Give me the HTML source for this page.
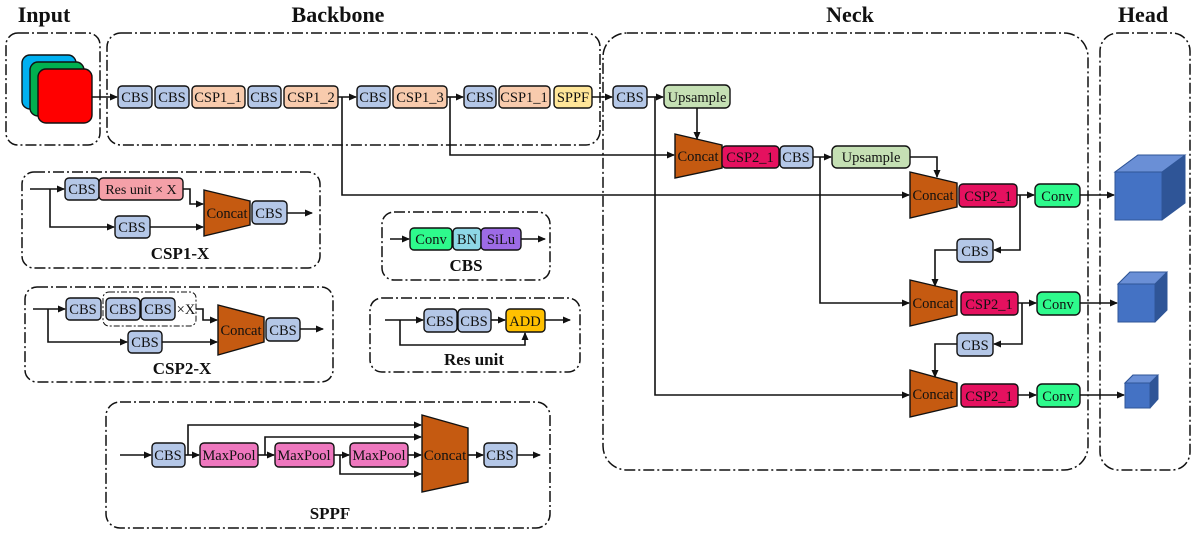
<!DOCTYPE html>
<html><head><meta charset="utf-8"><style>
html,body{margin:0;padding:0;background:#fff}
svg{display:block}
text{font-family:"Liberation Serif",serif;font-size:14.5px;fill:#111}
.t{font-weight:bold;font-size:22px}
.l{font-weight:bold;font-size:17px}
.f{fill:none;stroke:#111;stroke-width:1.5;stroke-dasharray:11 3 2 3}
.w{fill:none;stroke:#111;stroke-width:1.6}
.b{stroke:#111;stroke-width:1.4}
</style></head><body>
<svg width="1200" height="538" viewBox="0 0 1200 538" xmlns="http://www.w3.org/2000/svg">
<defs><marker id="a" markerWidth="8" markerHeight="8" refX="7" refY="4" orient="auto" markerUnits="userSpaceOnUse"><path d="M0,0.5 L8,4 L0,7.5z" fill="#111"/></marker></defs>
<g text-anchor="middle">
<text class="t" x="44" y="22">Input</text>
<text class="t" x="338" y="22">Backbone</text>
<text class="t" x="850" y="22">Neck</text>
<text class="t" x="1143" y="22">Head</text>
</g>
<rect class="f" x="6" y="33" width="94" height="112" rx="12"/>
<rect class="f" x="107" y="33" width="493" height="112" rx="14"/>
<rect class="f" x="603" y="33" width="485" height="437" rx="24"/>
<rect class="f" x="1100" y="33" width="90" height="437" rx="18"/>
<rect class="f" x="22" y="172" width="298" height="96" rx="12"/>
<rect class="f" x="25" y="287" width="308" height="95" rx="12"/>
<rect class="f" x="382" y="212" width="168" height="68" rx="12"/>
<rect class="f" x="370" y="298" width="210" height="74" rx="12"/>
<rect class="f" x="106" y="402" width="444" height="126" rx="14"/>
<rect x="22" y="55" width="54" height="54" rx="8" fill="#00B0F0" class="b"/>
<rect x="30" y="62" width="54" height="54" rx="8" fill="#00B050" class="b"/>
<rect x="38" y="69" width="54" height="54" rx="8" fill="#FF0000" class="b"/>
<g class="w">
<path d="M92 97H117" marker-end="url(#a)"/>
<path d="M338 97H356" marker-end="url(#a)"/>
<path d="M447 97H463" marker-end="url(#a)"/>
<path d="M592 97H612" marker-end="url(#a)"/>
<path d="M647 97H663" marker-end="url(#a)"/>
<path d="M342 97V195H909" marker-end="url(#a)"/>
<path d="M450 97V155H674" marker-end="url(#a)"/>
<path d="M655 97V395H909" marker-end="url(#a)"/>
<path d="M697 108V139" marker-end="url(#a)"/>
<path d="M813 157H831" marker-end="url(#a)"/>
<path d="M820 157V303H909" marker-end="url(#a)"/>
<path d="M910 157H937V177" marker-end="url(#a)"/>
<path d="M1017 195H1034" marker-end="url(#a)"/>
<path d="M1080 195H1114" marker-end="url(#a)"/>
<path d="M1020 195V250H994" marker-end="url(#a)"/>
<path d="M957 250H935V286" marker-end="url(#a)"/>
<path d="M1018 303H1036" marker-end="url(#a)"/>
<path d="M1080 303H1117" marker-end="url(#a)"/>
<path d="M1022 303V344H994" marker-end="url(#a)"/>
<path d="M957 344H935V377" marker-end="url(#a)"/>
<path d="M1018 395H1036" marker-end="url(#a)"/>
<path d="M1080 395H1124" marker-end="url(#a)"/>
<path d="M30 189H64" marker-end="url(#a)"/>
<path d="M50 189V227H114" marker-end="url(#a)"/>
<path d="M150 227H203" marker-end="url(#a)"/>
<path d="M183 189H190V204H203" marker-end="url(#a)"/>
<path d="M287 213H312" marker-end="url(#a)"/>
<path d="M33 309H65" marker-end="url(#a)"/>
<path d="M48 309V342H127" marker-end="url(#a)"/>
<path d="M162 342H217" marker-end="url(#a)"/>
<path d="M196 309H203V320H217" marker-end="url(#a)"/>
<path d="M300 329H323" marker-end="url(#a)"/>
<path d="M390 239H409" marker-end="url(#a)"/>
<path d="M521 239H545" marker-end="url(#a)"/>
<path d="M385 320H423" marker-end="url(#a)"/>
<path d="M491 320H505" marker-end="url(#a)"/>
<path d="M545 320H570" marker-end="url(#a)"/>
<path d="M400 320V345H525V333" marker-end="url(#a)"/>
<path d="M120 455H151" marker-end="url(#a)"/>
<path d="M185 455H199" marker-end="url(#a)"/>
<path d="M258 455H274" marker-end="url(#a)"/>
<path d="M334 455H349" marker-end="url(#a)"/>
<path d="M408 455H421" marker-end="url(#a)"/>
<path d="M468 455H483" marker-end="url(#a)"/>
<path d="M517 455H540" marker-end="url(#a)"/>
<path d="M188 455V425H421" marker-end="url(#a)"/>
<path d="M265 455V437H421" marker-end="url(#a)"/>
<path d="M340 455V474H421" marker-end="url(#a)"/>
</g>
<g fill="#C55A11" class="b">
<path d="M675 134L722 145V168L675 178Z"/>
<path d="M910 172L957 183V207L910 218Z"/>
<path d="M910 280L957 291V315L910 326Z"/>
<path d="M910 370L957 383V406L910 417Z"/>
<path d="M204 190L250 201V225L204 236Z"/>
<path d="M218 305L264 317V342L218 355Z"/>
<path d="M422 415L468 428V482L422 492Z"/>
</g>
<g text-anchor="middle" style="font-size:13.5px">
<text x="698" y="161">Concat</text><text x="933" y="200">Concat</text>
<text x="933" y="308">Concat</text><text x="933" y="399">Concat</text>
<text x="227" y="218">Concat</text><text x="241" y="335">Concat</text>
<text x="445" y="460" style="font-size:15px">Concat</text>
</g>
<g class="b">
<g fill="#B4C7E7">
<rect x="118" y="86" width="34" height="22" rx="4"/><rect x="155" y="86" width="34" height="22" rx="4"/>
<rect x="248" y="86" width="33" height="22" rx="4"/><rect x="357" y="86" width="33" height="22" rx="4"/>
<rect x="464" y="86" width="32" height="22" rx="4"/><rect x="613" y="86" width="34" height="22" rx="4"/>
<rect x="780" y="146" width="33" height="22" rx="4"/>
<rect x="957" y="239" width="36" height="23" rx="4"/><rect x="957" y="333" width="36" height="23" rx="4"/>
<rect x="65" y="178" width="34" height="22" rx="4"/><rect x="115" y="216" width="35" height="22" rx="4"/>
<rect x="252" y="201" width="35" height="23" rx="4"/>
<rect x="66" y="298" width="35" height="22" rx="4"/><rect x="106" y="298" width="34" height="22" rx="4"/>
<rect x="141" y="298" width="34" height="22" rx="4"/><rect x="128" y="331" width="34" height="22" rx="4"/>
<rect x="266" y="318" width="34" height="23" rx="4"/>
<rect x="424" y="309" width="33" height="23" rx="4"/><rect x="458" y="309" width="33" height="23" rx="4"/>
<rect x="152" y="443" width="33" height="24" rx="4"/><rect x="484" y="443" width="33" height="24" rx="4"/>
</g>
<g fill="#F8CBAD">
<rect x="192" y="86" width="53" height="22" rx="4"/><rect x="284" y="86" width="54" height="22" rx="4"/>
<rect x="393" y="86" width="54" height="22" rx="4"/><rect x="499" y="86" width="51" height="22" rx="4"/>
</g>
<rect x="554" y="86" width="38" height="22" rx="4" fill="#FFE699"/>
<rect x="664" y="85" width="66" height="23" rx="5" fill="#C5E0B4"/>
<rect x="832" y="146" width="78" height="22" rx="5" fill="#C5E0B4"/>
<g fill="#E5115F">
<rect x="722" y="146" width="57" height="22" rx="4"/><rect x="959" y="184" width="58" height="23" rx="4"/>
<rect x="961" y="292" width="57" height="23" rx="4"/><rect x="961" y="384" width="57" height="23" rx="4"/>
</g>
<g fill="#2EFA8C">
<rect x="1035" y="184" width="45" height="23" rx="5"/><rect x="1037" y="292" width="43" height="23" rx="5"/>
<rect x="1037" y="384" width="43" height="23" rx="5"/><rect x="410" y="228" width="42" height="22" rx="4"/>
</g>
<rect x="453" y="228" width="28" height="22" rx="4" fill="#8ED8E6"/>
<rect x="481" y="228" width="40" height="22" rx="4" fill="#9D6BE6"/>
<rect x="99" y="178" width="84" height="22" rx="4" fill="#F4A0A8"/>
<rect x="506" y="309" width="39" height="23" rx="4" fill="#FFC000"/>
<g fill="#EE77BE">
<rect x="200" y="443" width="58" height="24" rx="4"/><rect x="275" y="443" width="59" height="24" rx="4"/>
<rect x="350" y="443" width="58" height="24" rx="4"/>
</g>
</g>
<rect x="103" y="292" width="93" height="34" rx="6" fill="none" stroke="#111" stroke-width="1" stroke-dasharray="6 2 2 2"/>
<g text-anchor="middle">
<text x="135" y="102">CBS</text><text x="172" y="102">CBS</text><text x="218" y="102">CSP1_1</text>
<text x="264" y="102">CBS</text><text x="311" y="102">CSP1_2</text><text x="373" y="102">CBS</text>
<text x="420" y="102">CSP1_3</text><text x="480" y="102">CBS</text><text x="524" y="102">CSP1_1</text>
<text x="573" y="102">SPPF</text><text x="630" y="102">CBS</text><text x="697" y="102">Upsample</text>
<text x="750" y="162">CSP2_1</text><text x="796" y="162">CBS</text><text x="871" y="162">Upsample</text>
<text x="988" y="201">CSP2_1</text><text x="1057" y="201">Conv</text>
<text x="975" y="256">CBS</text><text x="975" y="350">CBS</text>
<text x="989" y="309">CSP2_1</text><text x="1058" y="309">Conv</text>
<text x="989" y="401">CSP2_1</text><text x="1058" y="401">Conv</text>
<text x="82" y="194">CBS</text><text x="141" y="194" style="font-size:14px">Res unit × X</text><text x="132" y="232">CBS</text>
<text x="269" y="218">CBS</text>
<text x="83" y="314">CBS</text><text x="123" y="314">CBS</text><text x="158" y="314">CBS</text>
<text x="186" y="314">×X</text><text x="145" y="347">CBS</text><text x="283" y="335">CBS</text>
<text x="431" y="244">Conv</text><text x="467" y="244">BN</text><text x="501" y="244">SiLu</text>
<text x="440" y="326">CBS</text><text x="474" y="326">CBS</text><text x="525" y="326">ADD</text>
<text x="168" y="460">CBS</text><text x="229" y="460">MaxPool</text><text x="304" y="460">MaxPool</text>
<text x="379" y="460">MaxPool</text><text x="500" y="460">CBS</text>
<text class="l" x="180" y="259">CSP1-X</text><text class="l" x="182" y="374">CSP2-X</text>
<text class="l" x="466" y="271">CBS</text><text class="l" x="474" y="365">Res unit</text>
<text class="l" x="330" y="519">SPPF</text>
</g>
<g stroke="#2F5597" stroke-width="1">
<path d="M1115 172L1138 155H1185V203L1162 220Z" fill="#2F5597"/>
<path d="M1115 172L1138 155H1185L1162 172Z" fill="#6A8FD6"/>
<rect x="1115" y="172" width="47" height="48" fill="#4472C4"/>
<path d="M1118 284L1130 272H1167V310L1155 322Z" fill="#2F5597"/>
<path d="M1118 284L1130 272H1167L1155 284Z" fill="#6A8FD6"/>
<rect x="1118" y="284" width="37" height="38" fill="#4472C4"/>
<path d="M1125 383L1133 375H1158V399L1150 408Z" fill="#2F5597"/>
<path d="M1125 383L1133 375H1158L1150 383Z" fill="#6A8FD6"/>
<rect x="1125" y="383" width="25" height="25" fill="#4472C4"/>
</g>
</svg>
</body></html>
